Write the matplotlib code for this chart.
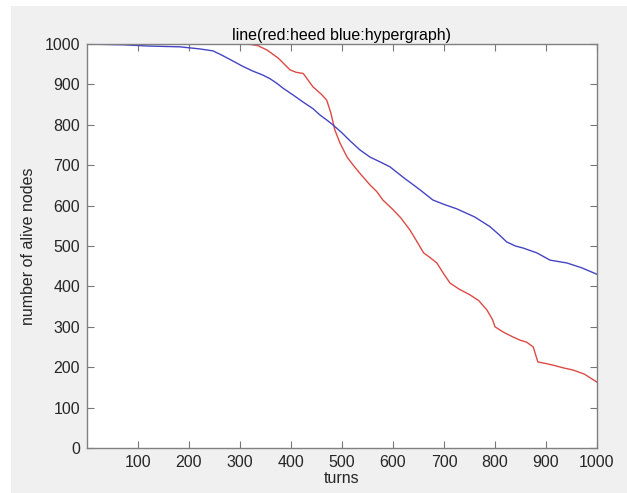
import matplotlib.pyplot as plt
from matplotlib.patches import Rectangle

# heed (red)
red_t = [0, 50, 100, 150, 200, 250, 300, 320, 335, 353, 375, 398, 410, 424, 443, 460, 470, 478,
         486, 496, 510, 522, 535, 555, 568, 580, 600, 615, 633, 645, 660, 672, 686, 700,
         712, 730, 751, 768, 784, 795, 800, 816, 835, 849, 862, 875, 884, 900, 914, 935, 953,
         975, 1000]
red_v = [1000, 1000, 1000, 1000, 1000, 1000, 1000, 999, 996, 985, 965, 936, 930, 927, 894, 875, 861, 830,
         787, 755, 720, 700, 680, 651, 635, 614, 590, 570, 540, 515, 483, 472, 458, 430,
         408, 393, 379, 365, 342, 318, 300, 287, 275, 267, 262, 250, 213, 209, 205, 198, 193,
         183, 163]

# hypergraph (blue)
blue_t = [0, 30, 71, 120, 182, 220, 247, 265, 286, 305, 325, 345, 359, 373, 384, 405, 424, 443,
          457, 470, 482, 500, 516, 535, 555, 575, 594, 620, 653, 678, 700, 725, 760, 790, 808, 823,
          840, 855, 882, 908, 941, 970, 1000]
blue_v = [1000, 999, 998, 995, 993, 988, 983, 972, 958, 945, 933, 923, 914, 902, 891, 873, 856, 840,
          824, 812, 800, 780, 760, 738, 720, 708, 696, 670, 639, 614, 603, 592, 572, 548, 528, 510,
          500, 495, 483, 465, 458, 446, 430]

fig = plt.figure(figsize=(6.27, 4.93), dpi=100)
fig.patch.set_facecolor("white")
fig.patches.append(Rectangle((11 / 627, 0), 1, 1 - 6 / 493, transform=fig.transFigure,
                             facecolor="#f0f0f0", edgecolor="none", zorder=-10))

ax = fig.add_axes([87 / 627, 1 - 448 / 493, 510 / 627, 404 / 493])
ax.plot(red_t, red_v, color="#dc4a45", lw=1.0)
ax.plot(blue_t, blue_v, color="#4545c4", lw=1.0)

ax.set_xlim(0, 1000)
ax.set_ylim(0, 1000)
ax.set_xticks(range(100, 1001, 100))
ax.set_yticks(range(0, 1001, 100))

font = "Liberation Sans"
for lab in ax.get_xticklabels() + ax.get_yticklabels():
    lab.set_fontfamily(font)
    lab.set_fontsize(11.5)
ax.tick_params(direction="in", length=5, width=0.8, colors="#777777", labelcolor="#262626",
               top=True, right=True, pad=5)
for s in ax.spines.values():
    s.set_color("#808080")
    s.set_linewidth(1.0)

ax.set_xlabel("turns", fontfamily=font, fontsize=11.5, color="#262626", labelpad=1)
ax.set_ylabel("number of alive nodes", fontfamily=font, fontsize=11.5, color="#262626", labelpad=6)
ax.set_title("line(red:heed blue:hypergraph)", fontfamily=font, fontsize=11.5, color="#000000", pad=3)

fig.savefig("out.png", dpi=100, facecolor=fig.get_facecolor())
